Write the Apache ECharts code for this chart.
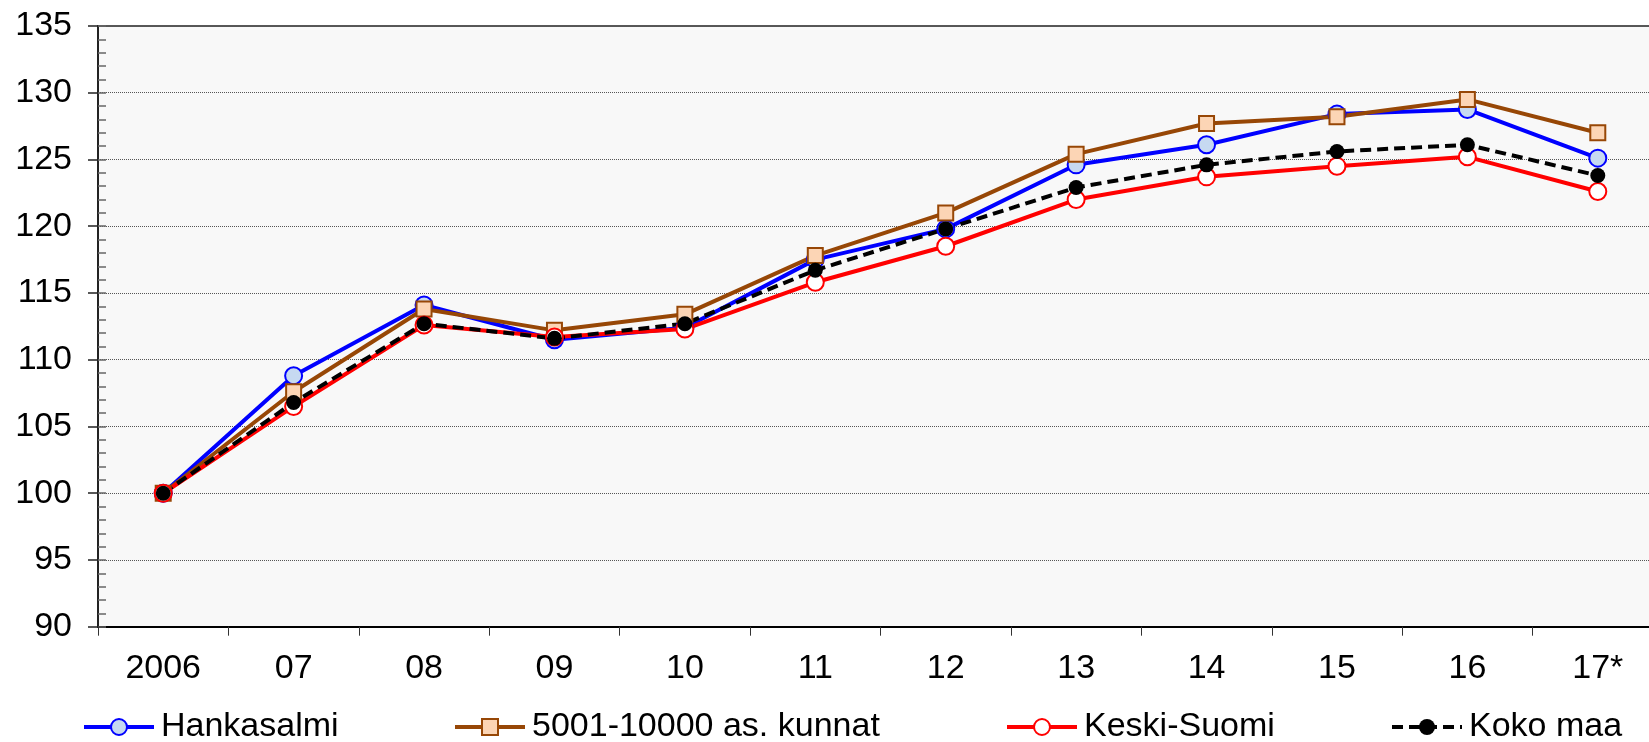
<!DOCTYPE html>
<html>
<head>
<meta charset="utf-8">
<script src="https://cdn.jsdelivr.net/npm/echarts@6/dist/echarts.min.js"></script>
<style>
    html, body { margin: 0; padding: 0; background: #fff; }
    #chart { width: 1649px; height: 742px; }
</style>
</head>
<body>
<div id="chart"></div>
<script>
    // vuodet (x-akseli)
    const years = ['2006', '07', '08', '09', '10', '11', '12', '13', '14', '15', '16', '17*'];

    // indeksi 2006 = 100
    const hankasalmi = [100, 108.8, 114.1, 111.5, 112.4, 117.5, 119.8, 124.6, 126.1, 128.4, 128.75, 125.1];
    const kunnat5001 = [100, 107.6, 113.8, 112.2, 113.4, 117.8, 121.0, 125.4, 127.7, 128.2, 129.5, 127.0];
    const keskiSuomi = [100, 106.5, 112.6, 111.7, 112.3, 115.8, 118.5, 122.0, 123.7, 124.5, 125.2, 122.6];
    const kokoMaa = [100, 106.8, 112.7, 111.6, 112.7, 116.7, 119.8, 122.9, 124.6, 125.6, 126.1, 123.8];

    const names = ['Hankasalmi', '5001-10000 as. kunnat', 'Keski-Suomi', 'Koko maa'];

    const font = 'Liberation Sans, Arial, sans-serif';
    const fontSize = 34;

    const chart = echarts.init(document.getElementById('chart'));

    // yksi legenda per sarja, jotta paikat osuvat
    const legendLeft = [82, 453, 1005, 1390];
    const legends = names.map((n, i) => ({
        data: [n],
        left: legendLeft[i],
        top: 710,
        itemWidth: 70,
        itemHeight: 20,
        itemGap: 0,
        padding: 0,
        lineStyle: { width: 4 },
        textStyle: { fontFamily: font, fontSize: fontSize, color: '#000', padding: [0, 0, 0, 2] }
    }));

    const option = {
        animation: false,
        backgroundColor: '#fff',
        legend: legends,
        grid: {
            left: 98,
            top: 26,
            width: 1565,
            height: 600.7,
            outerBoundsMode: 'none',
            containLabel: false,
            show: true,
            backgroundColor: '#f8f8f8',
            borderColor: '#222',
            borderWidth: 1.5
        },
        xAxis: {
            type: 'category',
            data: years,
            boundaryGap: true,
            axisLine: { lineStyle: { color: '#000', width: 2 } },
            axisTick: { show: true, interval: 0, length: 9, lineStyle: { color: '#333', width: 1 } },
            axisLabel: { interval: 0, margin: 25, fontFamily: font, fontSize: fontSize, color: '#000' },
            splitLine: { show: false }
        },
        yAxis: [
            {
                type: 'value',
                min: 90,
                max: 135,
                interval: 5,
                axisLine: { show: true, lineStyle: { color: '#222', width: 2 } },
                axisTick: { show: true, length: 10, lineStyle: { color: '#222', width: 1.5 } },
                axisLabel: { margin: 26, fontFamily: font, fontSize: fontSize, color: '#000' },
                splitLine: { show: true, lineStyle: { color: '#555', type: 'dotted', width: 1 } }
            },
            {
                // pienet jakoviivat sisäpuolella
                type: 'value',
                min: 90,
                max: 135,
                interval: 1,
                position: 'left',
                axisLine: { show: false },
                axisTick: { show: true, inside: true, length: 8, lineStyle: { color: '#666', width: 1.5 } },
                axisLabel: { show: false },
                splitLine: { show: false }
            }
        ],
        series: [
            {
                name: names[0],
                type: 'line',
                data: hankasalmi,
                symbol: 'circle',
                symbolSize: 17,
                lineStyle: { color: '#0000ff', width: 4 },
                itemStyle: { color: '#c6d9f1', borderColor: '#0000ff', borderWidth: 2 }
            },
            {
                name: names[1],
                type: 'line',
                data: kunnat5001,
                symbol: 'rect',
                symbolSize: 15,
                lineStyle: { color: '#974706', width: 4 },
                itemStyle: { color: '#fcd5b5', borderColor: '#974706', borderWidth: 2 }
            },
            {
                name: names[2],
                type: 'line',
                data: keskiSuomi,
                symbol: 'circle',
                symbolSize: 17,
                lineStyle: { color: '#ff0000', width: 4 },
                itemStyle: { color: '#ffffff', borderColor: '#ff0000', borderWidth: 2 }
            },
            {
                name: names[3],
                type: 'line',
                data: kokoMaa,
                symbol: 'circle',
                symbolSize: 15,
                lineStyle: { color: '#000', width: 4, type: [11, 6] },
                itemStyle: { color: '#000', borderColor: '#000', borderWidth: 0 }
            }
        ]
    };

    chart.setOption(option);
</script>
</body>
</html>
